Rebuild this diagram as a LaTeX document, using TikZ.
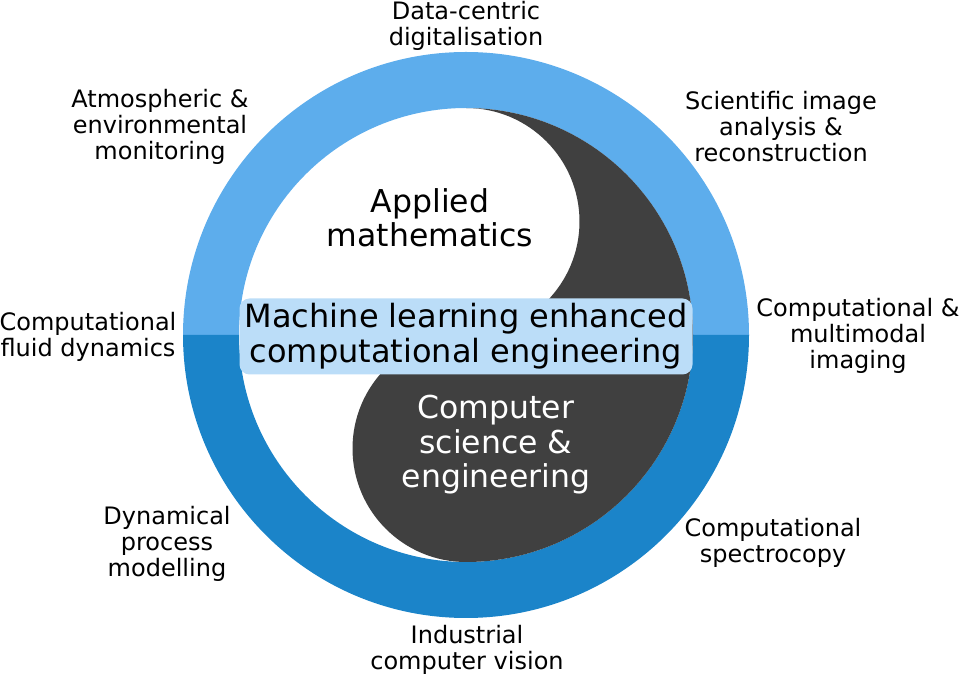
\documentclass[tikz,border=0pt]{standalone}
\usepackage{fontspec}
\setmainfont{DejaVu Sans}
\usepackage{tikz}
\usetikzlibrary{calc, positioning}

\definecolor{ringlight}{HTML}{5DADEC}
\definecolor{ringdark}{HTML}{1B84C9}
\definecolor{yang}{HTML}{404040}
\definecolor{boxblue}{HTML}{BBDDF8}

\begin{document}
\begin{tikzpicture}[x=1pt, y=1pt,
    topic/.style={align=center, inner sep=0pt, font=\fontsize{24}{26}\selectfont},
    field/.style={align=center, inner sep=0pt, font=\fontsize{31.5}{34.5}\selectfont}]
  \useasboundingbox (0,0) rectangle (959,675);
  \coordinate (c) at (466,340);

  %% ring, two halves
  \fill[ringlight] ($(c)+(-283,0)$) arc (180:0:283) -- ($(c)+(227,0)$) arc (0:180:227) -- cycle;
  \fill[ringdark] ($(c)+(-283,0)$) arc (180:360:283) -- ($(c)+(227,0)$) arc (360:180:227) -- cycle;

  %% dark half of the inner disc
  \fill[yang] ($(c)+(0,227)$) arc (90:-90:113.5) arc (90:270:113.5) arc (-90:90:227) -- cycle;

  %% inner fields
  \node[field] (AM) at (430,457) {Applied\\mathematics};
  \node[field, text=white] (CS) at (496,230) {Computer\\science \&\\engineering};

  \node[draw=none, fill=boxblue, rounded corners=10pt, minimum width=453pt, minimum height=76pt,
        align=center, inner sep=0pt, yshift=-1.5pt, font=\fontsize{32}{35}\selectfont] (ML) at (c)
        {Machine learning enhanced\\computational engineering};

  %% application areas round the ring
  \node[topic] (T1) at (466,649) {Data-centric\\digitalisation};
  \node[topic] (T2) at (781,548) {Scientific image\\analysis \&\\reconstruction};
  \node[topic] (T3) at (858,339) {Computational \&\\multimodal\\imaging};
  \node[topic] (T4) at (773,132) {Computational\\spectrocopy};
  \node[topic] (T5) at (467,25) {Industrial\\computer vision};
  \node[topic] (T6) at (167,131) {Dynamical\\process\\modelling};
  \node[topic] (T7) at (88,338) {Computational\\fluid dynamics};
  \node[topic] (T8) at (160,548) {Atmospheric \&\\environmental\\monitoring};
\end{tikzpicture}
\end{document}
